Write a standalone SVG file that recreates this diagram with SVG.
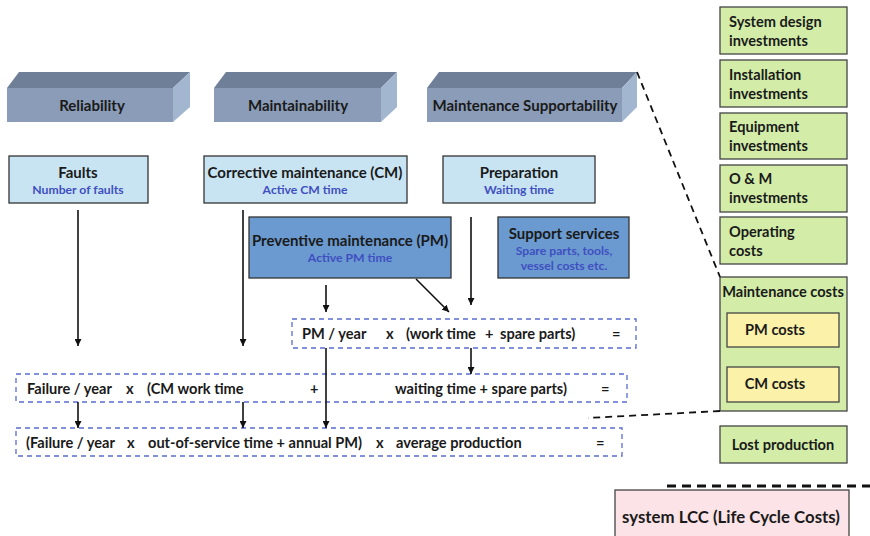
<svg xmlns="http://www.w3.org/2000/svg" width="870" height="536" viewBox="0 0 870 536">
<style>
text{font-family:Lato,"Open Sans","Liberation Sans",sans-serif;font-weight:bold;fill:#1a1a1a}
.t14{font-size:15px}
.t13{font-size:14.6px}
.sub{font-size:12.2px;fill:#3f4fc0}
.front{fill:#8a9cb7}
.top{fill:#6f7f98}
.side{fill:#a3b6d0}
.lb{fill:#c8e4f2;stroke:#333;stroke-width:1.3}
.mb{fill:#6b9ad0;stroke:#333;stroke-width:1.3}
.gr{fill:#d3eda8;stroke:#444;stroke-width:1.3}
.ye{fill:#fbf1a9;stroke:#444;stroke-width:1.3}
.fb{fill:none;stroke:#5b6ccf;stroke-width:1.3;stroke-dasharray:5 4}
.ar{stroke:#111;stroke-width:1.6;fill:none;marker-end:url(#ah)}
.dl{stroke:#111;stroke-width:1.8;fill:none;stroke-dasharray:7 5}
</style>
<defs>
<marker id="ah" viewBox="0 0 10 10" refX="10" refY="5" markerWidth="7" markerHeight="7" orient="auto" markerUnits="userSpaceOnUse">
<path d="M0,0 L10,5 L0,10 z" fill="#111"/>
</marker>
</defs>
<rect width="870" height="536" fill="#fff"/>

<g id="reliability">
<polygon class="top" points="7,88 19,72 190,72 173,88"/>
<polygon class="side" points="173,88 190,72 190,107 173,122"/>
<rect class="front" x="7" y="88" width="166" height="34"/>
<text class="t14" x="92" y="111" text-anchor="middle">Reliability</text>
</g>
<g id="maintainability">
<polygon class="top" points="214,88 226,72 397,72 381,88"/>
<polygon class="side" points="381,88 397,72 397,107 381,122"/>
<rect class="front" x="214" y="88" width="167" height="34"/>
<text class="t14" x="298" y="111" text-anchor="middle">Maintainability</text>
</g>
<g id="supportability">
<polygon class="top" points="427,88 439,72 637,72 622,88"/>
<polygon class="side" points="622,88 637,72 637,107 622,122"/>
<rect class="front" x="427" y="88" width="195" height="34"/>
<text class="t14" x="525" y="111" text-anchor="middle">Maintenance Supportability</text>
</g>

<g id="faults">
<rect class="lb" x="9" y="156" width="139" height="47"/>
<text class="t14" x="78" y="178" text-anchor="middle">Faults</text>
<text class="sub" x="78" y="194" text-anchor="middle">Number of faults</text>
</g>
<g id="cm">
<rect class="lb" x="204" y="156" width="203" height="47"/>
<text class="t14" x="305" y="178" text-anchor="middle">Corrective maintenance (CM)</text>
<text class="sub" x="305" y="194" text-anchor="middle">Active CM time</text>
</g>
<g id="preparation">
<rect class="lb" x="443" y="156" width="152" height="47"/>
<text class="t14" x="519" y="178" text-anchor="middle">Preparation</text>
<text class="sub" x="519" y="194" text-anchor="middle">Waiting time</text>
</g>
<g id="pm">
<rect class="mb" x="249" y="217" width="202" height="61"/>
<text class="t14" x="350" y="246" text-anchor="middle">Preventive maintenance (PM)</text>
<text class="sub" x="350" y="262" text-anchor="middle">Active PM time</text>
</g>
<g id="support">
<rect class="mb" x="498" y="217" width="131" height="61"/>
<text class="t14" x="564" y="239" text-anchor="middle">Support services</text>
<text class="sub" x="564" y="255" text-anchor="middle">Spare parts, tools,</text>
<text class="sub" x="564" y="270" text-anchor="middle">vessel costs etc.</text>
</g>

<g id="pm-formula">
<rect class="fb" x="292" y="319" width="344" height="29"/>
<text class="t13" x="302" y="339">PM / year</text>
<text class="t13" x="386" y="339">x</text>
<text class="t13" x="406" y="339">(work time</text>
<text class="t13" x="485" y="339">+</text>
<text class="t13" x="500" y="339">spare parts)</text>
<text class="t13" x="612" y="339">=</text>
</g>
<g id="cm-formula">
<rect class="fb" x="16" y="374" width="611" height="28"/>
<text class="t13" x="27" y="394">Failure / year</text>
<text class="t13" x="126" y="394">x</text>
<text class="t13" x="147" y="394">(CM work time</text>
<text class="t13" x="310" y="394">+</text>
<text class="t13" x="395" y="394">waiting time  + spare parts)</text>
<text class="t13" x="601" y="394">=</text>
</g>
<g id="lp-formula">
<rect class="fb" x="16" y="428" width="606" height="28"/>
<text class="t13" x="26" y="448">(Failure / year</text>
<text class="t13" x="127" y="448">x</text>
<text class="t13" x="148" y="448">out-of-service time + annual PM)</text>
<text class="t13" x="376" y="448">x</text>
<text class="t13" x="396" y="448">average production</text>
<text class="t13" x="596" y="448">=</text>
</g>

<g id="sys-design"><rect class="gr" x="720" y="7" width="127" height="47"/><text class="t13" x="729" y="27">System design</text><text class="t13" x="729" y="46">investments</text></g>
<g id="installation"><rect class="gr" x="720" y="60" width="127" height="47"/><text class="t13" x="729" y="80">Installation</text><text class="t13" x="729" y="99">investments</text></g>
<g id="equipment"><rect class="gr" x="720" y="113" width="127" height="46"/><text class="t13" x="729" y="132">Equipment</text><text class="t13" x="729" y="151">investments</text></g>
<g id="om"><rect class="gr" x="720" y="165" width="127" height="47"/><text class="t13" x="729" y="184">O &amp; M</text><text class="t13" x="729" y="203">investments</text></g>
<g id="operating"><rect class="gr" x="720" y="217" width="127" height="47"/><text class="t13" x="729" y="237">Operating</text><text class="t13" x="729" y="256">costs</text></g>
<g id="maint-costs">
<rect class="gr" x="720" y="277" width="127" height="134"/>
<text class="t13" x="783" y="297" text-anchor="middle">Maintenance costs</text>
</g>
<g id="pm-costs"><rect class="ye" x="727" y="313" width="112" height="34"/><text class="t13" x="775" y="335" text-anchor="middle">PM costs</text></g>
<g id="cm-costs"><rect class="ye" x="727" y="367" width="112" height="35"/><text class="t13" x="775" y="389" text-anchor="middle">CM costs</text></g>
<g id="lost-production"><rect class="gr" x="720" y="426" width="127" height="37"/><text class="t13" x="783" y="450" text-anchor="middle">Lost production</text></g>
<g id="lcc">
<rect x="615" y="490" width="234" height="60" fill="#fce3e7" stroke="#444" stroke-width="1.3"/>
<text x="731" y="523" text-anchor="middle" style="font-size:16.8px">system LCC (Life Cycle Costs)</text>
</g>

<g id="connectors">
<line class="ar" x1="78" y1="210" x2="78" y2="346"/>
<line class="ar" x1="243" y1="210" x2="243" y2="346"/>
<line class="ar" x1="471" y1="217" x2="471" y2="305"/>
<line class="ar" x1="326" y1="285" x2="326" y2="312"/>
<line class="ar" x1="416" y1="279" x2="449" y2="312"/>
<line class="ar" x1="471" y1="348" x2="471" y2="374"/>
<line class="ar" x1="326" y1="348" x2="326" y2="428"/>
<line class="ar" x1="78" y1="402" x2="78" y2="428"/>
<line class="ar" x1="243" y1="402" x2="243" y2="428"/>
<line class="dl" x1="637" y1="72" x2="720" y2="277"/>
<line class="dl" x1="720" y1="411" x2="588" y2="418"/>
<line x1="667" y1="486" x2="870" y2="486" stroke="#111" stroke-width="3" stroke-dasharray="9 6"/>
</g>
</svg>
